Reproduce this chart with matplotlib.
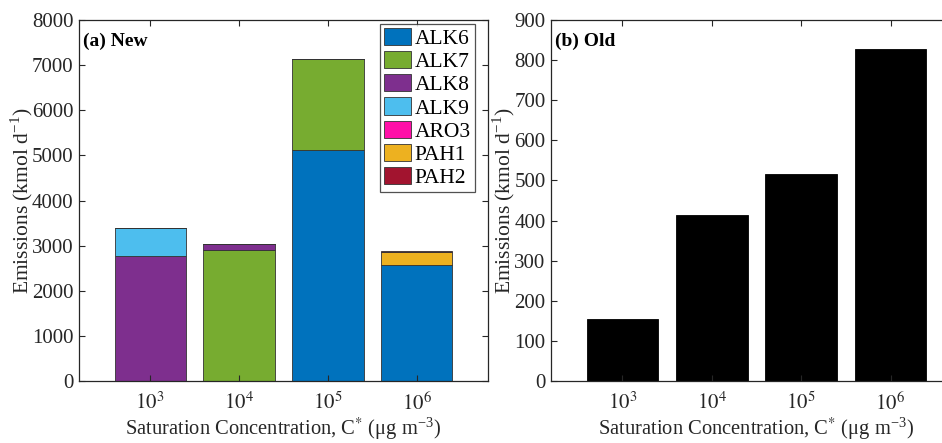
import numpy as np
import matplotlib
matplotlib.use('Agg')
import matplotlib.pyplot as plt

plt.rcParams['font.family'] = ['Liberation Serif', 'DejaVu Serif']
plt.rcParams['mathtext.fontset'] = 'stix'

# data
bins = [r'$10^3$', r'$10^4$', r'$10^5$', r'$10^6$']
species = ['ALK6', 'ALK7', 'ALK8', 'ALK9', 'ARO3', 'PAH1', 'PAH2']
alk6 = [0, 0, 5110, 2565]
alk7 = [0, 2900, 2015, 0]
alk8 = [2770, 135, 0, 0]
alk9 = [615, 0, 0, 0]
aro3 = [0, 0, 0, 0]
pah1 = [0, 0, 0, 290]
pah2 = [0, 0, 0, 35]
old = [155, 413, 515, 827]

colors = ['#0072BD', '#77AC30', '#7E2F8E', '#4DBEEE', '#FF0FA8', '#EDB120', '#A2142F']
new_series = [alk6, alk7, alk8, alk9, aro3, pah1, pah2]

W, H = 942, 443
fig = plt.figure(figsize=(W/100, H/100), dpi=100)
ax1 = fig.add_axes([79/W, 62/H, 409/W, 361/H])
ax2 = fig.add_axes([551/W, 62/H, 411/W, 361/H])

x = np.arange(1, 5)
bottom = np.zeros(4)
for vals, c, name in zip(new_series, colors, species):
    ax1.bar(x, vals, 0.8, bottom=bottom, color=c, edgecolor='#333333', linewidth=0.6, label=name)
    bottom += np.array(vals)

ax2.bar(x, old, 0.8, color='black', edgecolor='black', linewidth=0.6)

ax1.set_ylim(0, 8000)
ax1.set_yticks(np.arange(0, 8001, 1000))
ax2.set_ylim(0, 900)
ax2.set_yticks(np.arange(0, 901, 100))

for ax, lab in [(ax1, '(a) New'), (ax2, '(b) Old')]:
    ax.set_xlim(0.2, 4.8)
    ax.set_xticks(x)
    ax.set_xticklabels(bins)
    ax.tick_params(direction='in', top=True, right=True, length=4, width=0.8,
                   colors='#262626', labelsize=15, labelcolor='#262626')
    ax.tick_params(axis='x', pad=8)
    ax.tick_params(axis='y', pad=4)
    for s in ax.spines.values():
        s.set_color('#262626')
        s.set_linewidth(0.9)
    ax.set_ylabel(r'Emissions (kmol d$^{\mathregular{-1}}$)', fontsize=15.5, color='#262626', labelpad=-2)
    ax.set_xlabel(r'Saturation Concentration, C$^{*}$ (μg m$^{\mathregular{-3}}$)', fontsize=14.8,
                  color='#262626', labelpad=1)
    ax.text(0.01, 0.965, lab, transform=ax.transAxes, fontsize=14, fontweight='bold',
            va='top', ha='left')

leg = ax1.legend(loc='upper right', bbox_to_anchor=(0.968, 0.99), fontsize=15.5, frameon=True,
                 fancybox=False, edgecolor='#262626', handlelength=1.25, handleheight=0.85,
                 handletextpad=0.15, labelspacing=0.1, borderpad=0.2, borderaxespad=0)
leg.get_frame().set_linewidth(0.9)

fig.savefig('out.png', dpi=100)
